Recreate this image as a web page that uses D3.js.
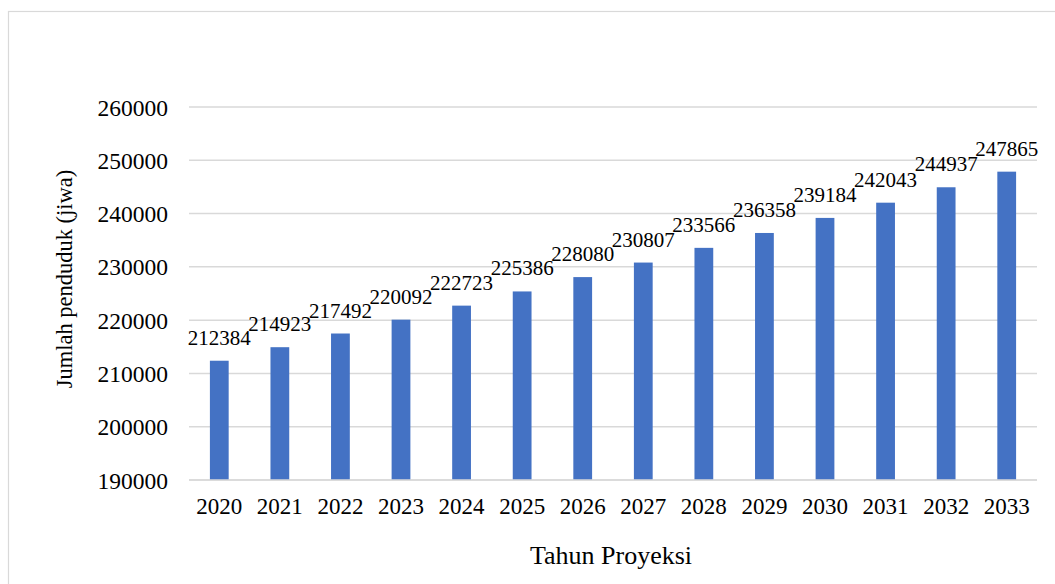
<!DOCTYPE html>
<html>
<head>
<meta charset="utf-8">
<script src="https://cdn.jsdelivr.net/npm/d3@7"></script>
<style>
  body { margin: 0; background: #fff; }
  text { font-family: "Liberation Serif", "Times New Roman", serif; fill: #000; }
</style>
</head>
<body>
<svg width="1055" height="584"></svg>
<script>
// data
var years = ["2020", "2021", "2022", "2023", "2024", "2025", "2026", "2027", "2028", "2029", "2030", "2031", "2032", "2033"];
var population = [212384, 214923, 217492, 220092, 222723, 225386, 228080, 230807, 233566, 236358, 239184, 242043, 244937, 247865];
var yTicks = [190000, 200000, 210000, 220000, 230000, 240000, 250000, 260000];

var svg = d3.select("svg");

var plotLeft = 189, plotRight = 1037, plotTop = 107, plotBottom = 480;

// chart frame
svg.append("rect")
  .attr("x", 8.5).attr("y", 11.5)
  .attr("width", 1100).attr("height", 600)
  .attr("fill", "none")
  .attr("stroke", "#d9d9d9")
  .attr("stroke-width", 1.2);

var x = d3.scaleBand().domain(years).range([plotLeft, plotRight]).paddingInner(0.69).paddingOuter(0.345);
var y = d3.scaleLinear().domain([190000, 260000]).range([plotBottom, plotTop]);

// gridlines
svg.append("g")
  .selectAll("line")
  .data(yTicks)
  .enter().append("line")
  .attr("x1", plotLeft).attr("x2", plotRight)
  .attr("y1", function (d) { return y(d); })
  .attr("y2", function (d) { return y(d); })
  .attr("stroke", "#d9d9d9")
  .attr("stroke-width", 1.5);

// y tick labels
var yAxis = svg.append("g")
  .attr("transform", "translate(" + (plotLeft - 21) + ",0)")
  .call(d3.axisLeft(y).tickValues(yTicks).tickSize(0).tickPadding(0).tickFormat(d3.format("d")));
yAxis.select(".domain").remove();
yAxis.selectAll("text")
  .style("font-size", "23.5px")
  .style("font-family", "Liberation Serif, Times New Roman, serif")
  .attr("dy", "0.34em");

// bars
svg.append("g")
  .selectAll("rect")
  .data(population)
  .enter().append("rect")
  .attr("x", function (d, i) { return x(years[i]); })
  .attr("width", x.bandwidth())
  .attr("y", function (d) { return y(d); })
  .attr("height", function (d) { return plotBottom - y(d); })
  .attr("fill", "#4472c4");

// baseline redrawn over the bars
svg.append("line")
  .attr("x1", plotLeft).attr("x2", plotRight)
  .attr("y1", plotBottom).attr("y2", plotBottom)
  .attr("stroke", "#d9d9d9")
  .attr("stroke-width", 1.5);

// value labels
svg.append("g")
  .selectAll("text")
  .data(population)
  .enter().append("text")
  .attr("x", function (d, i) { return x(years[i]) + x.bandwidth() / 2; })
  .attr("y", function (d) { return y(d) - 16; })
  .attr("text-anchor", "middle")
  .style("font-size", "21px")
  .text(function (d) { return d; });

// x tick labels
var xAxis = svg.append("g")
  .attr("transform", "translate(0," + plotBottom + ")")
  .call(d3.axisBottom(x).tickSize(0).tickPadding(0));
xAxis.select(".domain").remove();
xAxis.selectAll("text")
  .style("font-size", "23px")
  .style("font-family", "Liberation Serif, Times New Roman, serif")
  .attr("y", 34)
  .attr("dy", 0);

// axis titles
svg.append("text")
  .attr("x", 611).attr("y", 564)
  .attr("text-anchor", "middle")
  .style("font-size", "26px")
  .text("Tahun Proyeksi");

svg.append("text")
  .attr("transform", "translate(72,279) rotate(-90)")
  .attr("text-anchor", "middle")
  .style("font-size", "22.5px")
  .text("Jumlah penduduk (jiwa)");
</script>
</body>
</html>
